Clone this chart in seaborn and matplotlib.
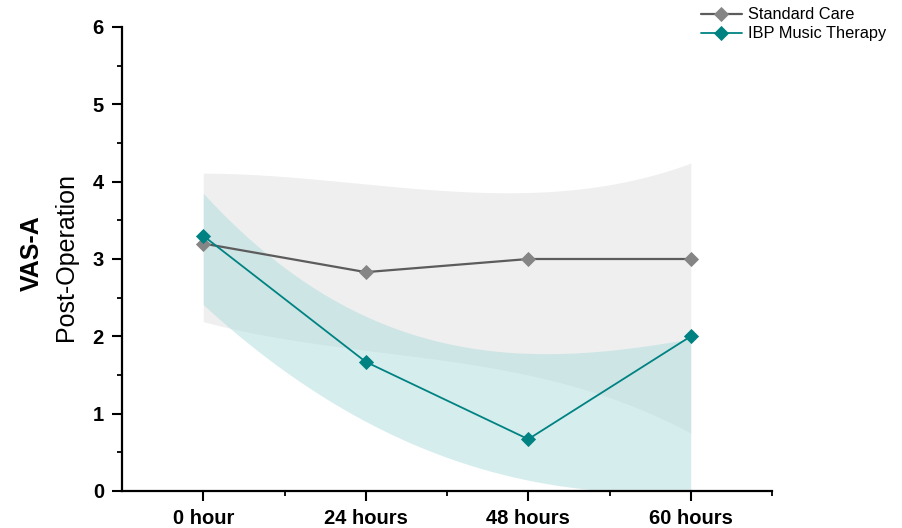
import numpy as np
import pandas as pd
import matplotlib
matplotlib.use("Agg")
import matplotlib.pyplot as plt
import seaborn as sns

# Measurement times and mean VAS-A scores
timepoints = ["0 hour", "24 hours", "48 hours", "60 hours"]
standard_care = [3.2, 2.83, 3.0, 3.0]
music_therapy = [3.3, 1.67, 0.67, 2.0]

# Confidence band limits at each time point
standard_upper = [4.11, 3.97, 3.86, 4.24]
standard_lower = [2.19, 1.82, 1.50, 0.75]
music_upper = [3.85, 2.26, 1.78, 1.97]
music_lower = [2.41, 0.90, 0.14, 0.0]

y_ticks = [0, 1, 2, 3, 4, 5, 6]

sns.set_theme(style="ticks")
plt.rcParams["font.family"] = ["Liberation Sans", "DejaVu Sans"]
plt.rcParams["text.color"] = "black"

GREY_LINE = "#5c5c5c"
GREY_MARK = "#858585"
TEAL = "#008282"

pos = np.arange(len(timepoints))
df = pd.DataFrame({
    "pos": np.concatenate([pos, pos]),
    "score": standard_care + music_therapy,
    "group": ["Standard Care"] * len(pos) + ["IBP Music Therapy"] * len(pos),
})

fig = plt.figure(figsize=(9.02, 5.28), dpi=100)
ax = fig.add_axes([122 / 902, 37 / 528, 650 / 902, 464 / 528])


def smooth_band(lower, upper):
    # cubic through the four band limits, drawn as a smooth ribbon
    xs = np.linspace(pos[0], pos[-1], 200)
    lo = np.polyval(np.polyfit(pos, lower, 3), xs)
    hi = np.polyval(np.polyfit(pos, upper, 3), xs)
    return xs, np.clip(lo, 0, None), hi


xs, lo, hi = smooth_band(standard_lower, standard_upper)
ax.fill_between(xs, lo, hi, color="#efefef", lw=0, zorder=1)
xs, lo, hi = smooth_band(music_lower, music_upper)
ax.fill_between(xs, lo, hi, color="#aedcdc", alpha=0.5, lw=0, zorder=2)

sns.lineplot(data=df[df.group == "Standard Care"], x="pos", y="score",
             ax=ax, color=GREY_LINE, lw=1.6, marker="D", markersize=7.2,
             markerfacecolor=GREY_MARK, markeredgecolor=GREY_MARK,
             markeredgewidth=0.6, label="Standard Care", zorder=3)
sns.lineplot(data=df[df.group == "IBP Music Therapy"], x="pos", y="score",
             ax=ax, color=TEAL, lw=1.3, marker="D", markersize=7.2,
             markerfacecolor=TEAL, markeredgecolor=TEAL,
             markeredgewidth=0.6, label="IBP Music Therapy", zorder=4)

handles, labels = ax.get_legend_handles_labels()
ax.get_legend().remove()
leg = fig.legend(handles, labels, loc="upper right",
                 bbox_to_anchor=(0.999, 1.014), frameon=False,
                 fontsize=11.8, handlelength=2.5, handletextpad=0.4,
                 labelspacing=0.25, markerscale=1.0)

ax.set_xlim(-0.5, 3.5)
ax.set_ylim(0, 6)
ax.set_xticks(pos)
ax.set_xticklabels(timepoints)
ax.set_xticks([0.5, 1.5, 2.5, 3.5], minor=True)
ax.set_yticks(y_ticks)
ax.set_yticks(np.arange(0.5, 6, 1.0), minor=True)
for lab in ax.get_xticklabels() + ax.get_yticklabels():
    lab.set_fontweight("bold")
    lab.set_fontsize(14.5)
    lab.set_color("black")

ax.tick_params(which="major", direction="out", length=7, width=1.5,
               color="black", pad=6)
ax.tick_params(which="minor", direction="out", length=3.5, width=1.3,
               color="black")
ax.set_xlabel("")
ax.set_ylabel("")
sns.despine(ax=ax)
for side in ("left", "bottom"):
    ax.spines[side].set_linewidth(1.6)
    ax.spines[side].set_color("black")

fig.text(32 / 902, 1 - 253 / 528, "VAS-A", rotation=90, ha="center",
         va="center", fontsize=18, fontweight="bold", color="black")
fig.text(66 / 902, 1 - 257 / 528, "Post-Operation", rotation=90,
         ha="center", va="center", fontsize=18, color="black")

fig.savefig("out.png", dpi=100)
